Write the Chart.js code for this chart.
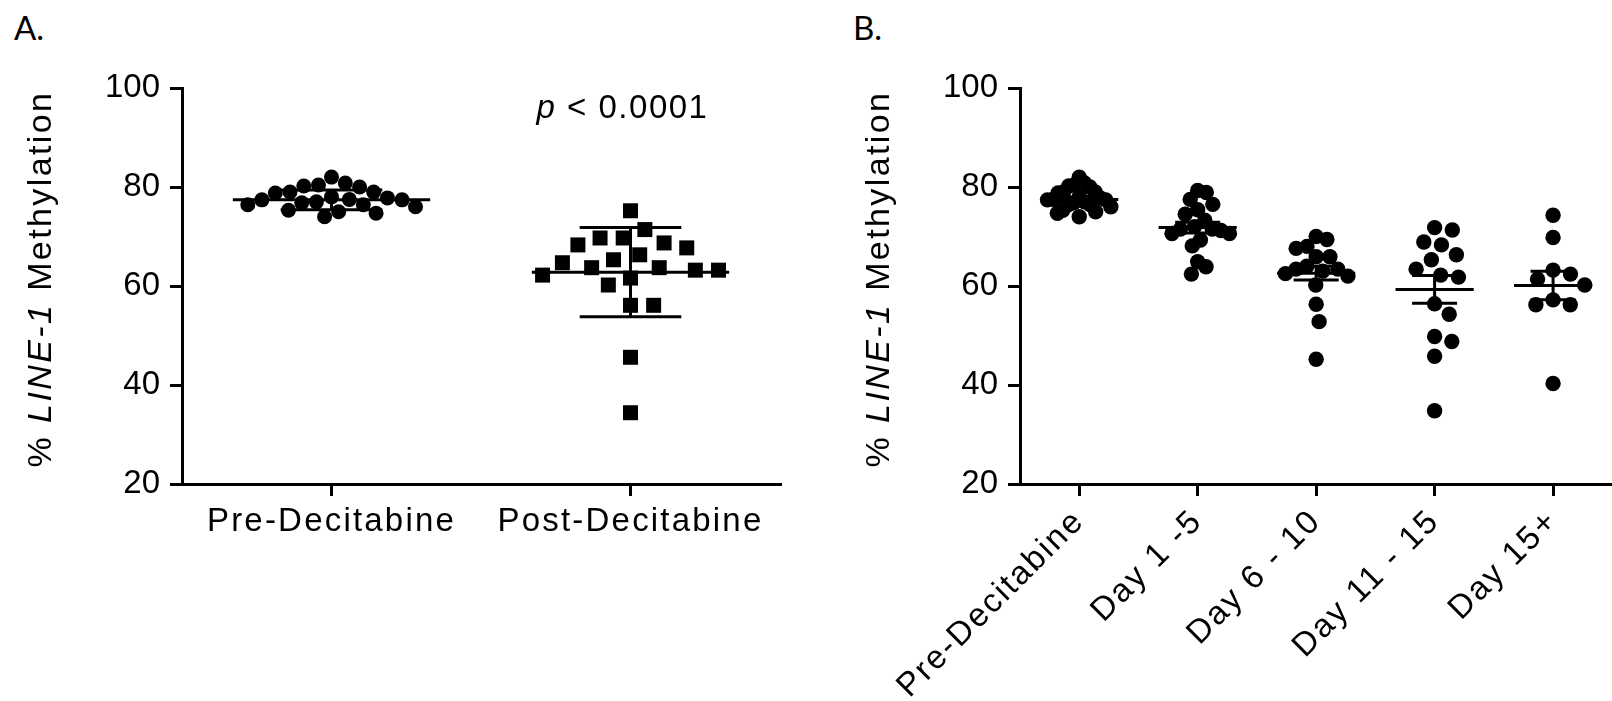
<!DOCTYPE html>
<html>
<head>
<meta charset="utf-8">
<script src="https://cdn.jsdelivr.net/npm/chart.js@4"></script>
<style>
  body { margin: 0; width: 1612px; height: 701px; overflow: hidden; background: #fff; position: relative; }
  canvas { position: absolute; top: 0; }
  .panel { position: absolute; font-family: Lato, 'Open Sans', sans-serif; font-size: 33px; line-height: 33px; color: #000; }
</style>
</head>
<body>
<div class="panel" style="left:14px;top:11px">A.</div>
<div class="panel" style="left:853px;top:11px">B.</div>
<canvas id="chartA" width="800" height="701" style="left:0"></canvas>
<canvas id="chartB" width="810" height="701" style="left:810px"></canvas>
<script>
// panel A
const groupsA = ['Pre-Decitabine', 'Post-Decitabine'];
const preDecitabine = [80.8, 80.2, 80.0, 80.4, 82.0, 77.5, 77.4, 77.0, 76.4, 76.0, 75.0,
  74.0, 74.7, 75.3, 76.4, 76.8, 77.4, 77.8, 78.0, 78.8, 79.0, 79.0];
const postDecitabine = [75.2, 71.4, 69.7, 68.7, 67.7, 68.3, 69.7, 66.3, 65.3, 63.7, 63.2,
  62.2, 60.2, 61.6, 63.2, 63.7, 64.7, 56.1, 56.1, 45.6, 34.4];
const meanA = [77.4, 62.8];
const sdA = [2.0, 9.0];

// panel B
const groupsB = ['Pre-Decitabine', 'Day 1 -5', 'Day 6 - 10', 'Day 11 - 15', 'Day 15+'];
const day1to5 = [79.3, 78.9, 77.5, 76.5, 75.4, 74.5, 73.3, 72.0, 71.5, 71.5, 71.2, 70.6,
  70.6, 69.3, 68.1, 64.9, 63.9, 62.4];
const day6to10 = [70.0, 69.4, 68.0, 67.6, 65.9, 65.9, 64.0, 63.4, 63.4, 63.0, 62.5, 62.0,
  60.2, 56.3, 52.8, 45.2];
const day11to15 = [71.3, 71.8, 68.3, 68.9, 65.3, 66.3, 62.2, 61.8, 63.4, 56.4, 54.3, 48.8,
  49.8, 45.8, 34.8];
const day15plus = [74.3, 69.8, 63.2, 62.4, 61.4, 60.2, 56.2, 56.2, 57.2, 40.3];
const meanB = [77.5, 71.8, 62.6, 59.3, 60.1];
const semB = [0.5, 1.1, 1.4, 2.8, 2.9];

const yTicks = [20, 40, 60, 80, 100];

const FONT = '"Liberation Sans", Arial, sans-serif';
Chart.defaults.font.family = FONT;
Chart.defaults.color = '#000';

const PX_PER_Y = 4.95;

// simple beeswarm: spread points sideways so they do not overlap (d = min distance in px)
function swarm(values, pxX, d, maxHalf) {
  const order = values.map((v, i) => i).sort((a, b) => values[b] - values[a]);
  const placed = [];
  const off = [];
  order.forEach(i => {
    const yy = values[i] * PX_PER_Y;
    const cands = [0];
    placed.forEach(p => {
      const dy = Math.abs(p.y - yy);
      if (dy < d) {
        const dx = Math.sqrt(d * d - dy * dy);
        cands.push(p.x + dx, p.x - dx);
      }
    });
    cands.sort((a, b) => Math.abs(a) - Math.abs(b));
    const xx = cands.find(c => placed.every(p => (p.x - c) ** 2 + (p.y - yy) ** 2 >= d * d - 0.01));
    placed.push({ x: xx, y: yy });
    off[i] = xx;
  });
  const m = Math.max(...off.map(Math.abs));
  const k = m > maxHalf ? maxHalf / m : 1;
  return off.map(o => o * k / pxX);
}

const toPoints = (values, gi, pxX, d, maxHalf) => {
  const off = swarm(values, pxX, d, maxHalf);
  return values.map((v, i) => ({ x: gi + off[i], y: v }));
};

const statsPlugin = {
  id: 'stats',
  afterDatasetsDraw(chart, args, o) {
    const { ctx, scales: { x, y } } = chart;
    const line = (x0, x1, y0, y1) => {
      ctx.beginPath();
      ctx.moveTo(x.getPixelForValue(x0), y.getPixelForValue(y0));
      ctx.lineTo(x.getPixelForValue(x1), y.getPixelForValue(y1));
      ctx.stroke();
    };
    ctx.save();
    ctx.strokeStyle = '#000';
    ctx.lineWidth = 3;
    o.mean.forEach((m, i) => {
      const e = o.err[i];
      line(i - o.meanHalf, i + o.meanHalf, m, m);
      line(i, i, m - e, m + e);
      line(i - o.capHalf, i + o.capHalf, m + e, m + e);
      line(i - o.capHalf, i + o.capHalf, m - e, m - e);
    });
    ctx.restore();
  }
};

// mixed style text pieces: [text, italic?]
function drawParts(ctx, parts, size, spacing, cx, cy) {
  ctx.letterSpacing = spacing + 'px';
  const fonts = parts.map(p => (p[1] ? 'italic ' : '') + size + 'px ' + FONT);
  const widths = parts.map((p, i) => { ctx.font = fonts[i]; return ctx.measureText(p[0]).width; });
  let xx = cx - widths.reduce((a, b) => a + b) / 2;
  ctx.textBaseline = 'middle';
  ctx.textAlign = 'left';
  ctx.fillStyle = '#000';
  parts.forEach((p, i) => { ctx.font = fonts[i]; ctx.fillText(p[0], xx, cy); xx += widths[i]; });
}

const yTitlePlugin = {
  id: 'yTitle',
  afterDraw(chart, args, o) {
    const { ctx, chartArea } = chart;
    ctx.save();
    ctx.translate(chartArea.left - o.offset, (chartArea.top + chartArea.bottom) / 2 + o.dy);
    ctx.rotate(-Math.PI / 2);
    drawParts(ctx, [['% ', false], ['LINE-1', true], [' Methylation', false]], o.size, o.spacing, 0, 0);
    ctx.restore();
  }
};

const pValuePlugin = {
  id: 'pValue',
  afterDraw(chart) {
    const { ctx, scales: { x, y } } = chart;
    ctx.save();
    drawParts(ctx, [['p', true], [' < 0.0001', false]], 33, 1.5, x.getPixelForValue(1) - 8, y.getPixelForValue(95.8));
    ctx.restore();
  }
};

// the category labels are a little wider-set in the original figure
const spacedLabels = {
  id: 'spacedLabels',
  beforeDraw(chart, args, o) {
    const s = chart.scales.x;
    if (s._spaced) return;
    const orig = s.drawLabels.bind(s);
    s.drawLabels = area => {
      chart.ctx.save();
      chart.ctx.letterSpacing = o.spacing + 'px';
      orig(area);
      chart.ctx.restore();
    };
    s._spaced = true;
  }
};

const makeOptions = (cats, yWidth, padRight, rotation, stats) => ({
  responsive: false,
  animation: false,
  layout: { padding: { top: 88, right: padRight, left: 0, bottom: 0 } },
  plugins: {
    legend: { display: false },
    tooltip: { enabled: false },
    stats: stats,
    yTitle: { offset: 140, size: 34, spacing: 2.4, dy: -7 },
    spacedLabels: { spacing: 2.2 }
  },
  scales: {
    x: {
      type: 'linear',
      min: -0.5,
      max: cats.length - 0.5,
      afterBuildTicks: s => { s.ticks = cats.map((c, i) => ({ value: i })); },
      afterFit: s => { s.height = 217; },
      grid: { drawOnChartArea: false, tickLength: 12, lineWidth: 3, color: '#000' },
      border: { display: true, width: 3, color: '#000' },
      ticks: {
        autoSkip: false,
        minRotation: rotation,
        maxRotation: rotation,
        padding: 6,
        font: { size: 33 },
        callback: v => cats[v]
      }
    },
    y: {
      min: 20,
      max: 100,
      afterBuildTicks: s => { s.ticks = yTicks.map(v => ({ value: v })); },
      afterFit: s => { s.width = yWidth; },
      grid: { drawOnChartArea: false, tickLength: 12, lineWidth: 3, color: '#000' },
      border: { display: true, width: 3, color: '#000' },
      ticks: { padding: 10, font: { size: 33 } }
    }
  }
});

new Chart(document.getElementById('chartA'), {
  type: 'scatter',
  data: {
    datasets: [
      {
        label: groupsA[0],
        data: toPoints(preDecitabine, 0, 299, 17, 84),
        pointStyle: 'circle',
        pointRadius: 7.5,
        borderWidth: 0,
        backgroundColor: '#000'
      },
      {
        label: groupsA[1],
        data: toPoints(postDecitabine, 1, 299, 24, 88),
        pointStyle: 'rect',
        pointRadius: 10.6,
        borderWidth: 0,
        backgroundColor: '#000'
      }
    ]
  },
  options: makeOptions(groupsA, 182, 20, 0, { mean: meanA, err: sdA, meanHalf: 0.33, capHalf: 0.17 }),
  plugins: [spacedLabels, statsPlugin, yTitlePlugin, pValuePlugin]
});

const seriesB = [preDecitabine, day1to5, day6to10, day11to15, day15plus];

new Chart(document.getElementById('chartB'), {
  type: 'scatter',
  data: {
    datasets: [{
      label: 'LINE-1',
      data: seriesB.flatMap((vals, gi) => toPoints(vals, gi, 119.3, 18, 32)),
      pointStyle: 'circle',
      pointRadius: 7.7,
      borderWidth: 0,
      backgroundColor: '#000'
    }]
  },
  options: makeOptions(groupsB, 210, 4, 45, { mean: meanB, err: semB, meanHalf: 0.33, capHalf: 0.19 }),
  plugins: [spacedLabels, statsPlugin, yTitlePlugin]
});
</script>
</body>
</html>
